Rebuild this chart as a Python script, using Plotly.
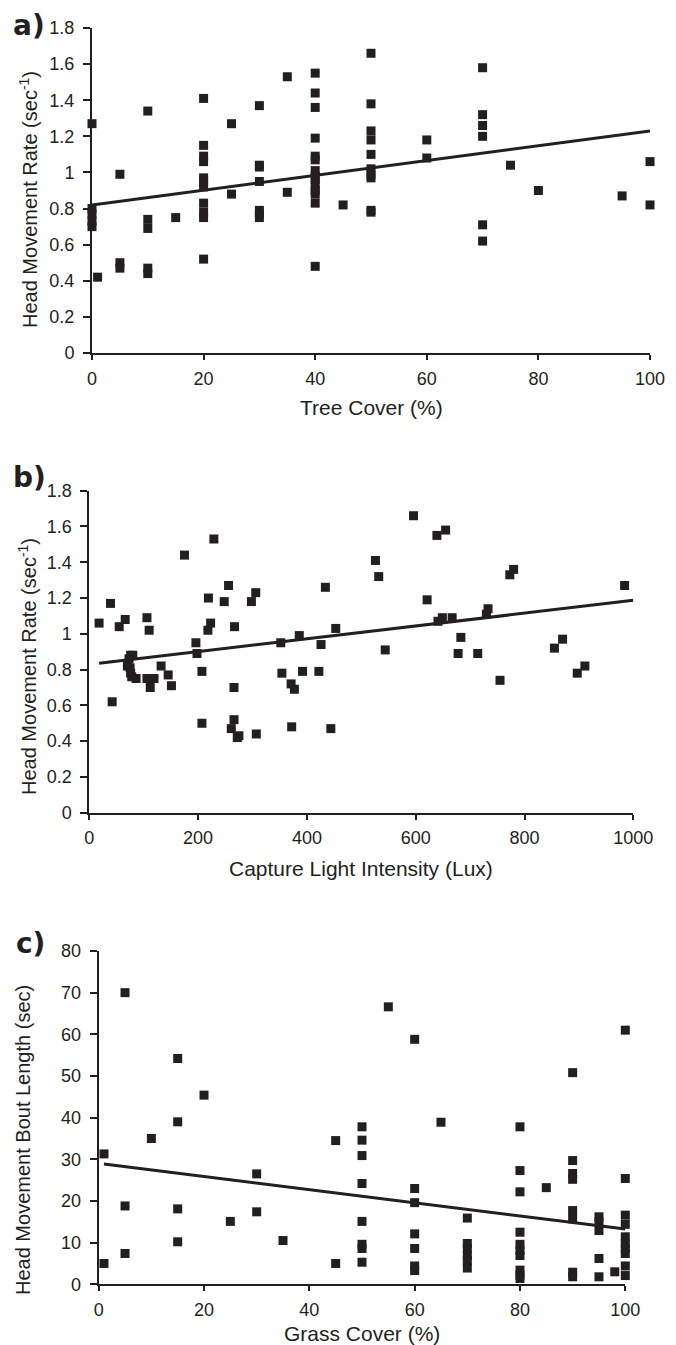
import plotly.graph_objects as go

W, H = 676, 1345
OFF = 8  # the page body keeps its default 8px margin, so the figure is drawn that far in
INK = "#231f20"
FONT = "Liberation Sans, Arial, sans-serif"

# panel a: tree cover vs head movement rate
tree_cover = [0, 0, 0, 0, 0, 1, 5, 5, 5, 10, 10, 10, 10, 10, 15,
              20, 20, 20, 20, 20, 20, 20, 20, 20, 20, 20, 25, 25,
              30, 30, 30, 30, 30, 30, 30, 35, 35,
              40, 40, 40, 40, 40, 40, 40, 40, 40, 40, 40, 40, 40, 40, 45,
              50, 50, 50, 50, 50, 50, 50, 50, 50, 50, 60, 60,
              70, 70, 70, 70, 70, 70, 75, 80, 95, 100, 100]
rate_a = [1.27, 0.80, 0.77, 0.73, 0.70, 0.42, 0.99, 0.50, 0.47, 1.34, 0.74, 0.69, 0.47, 0.44, 0.75,
          1.41, 1.15, 1.09, 1.06, 0.97, 0.95, 0.92, 0.83, 0.78, 0.75, 0.52, 1.27, 0.88,
          1.37, 1.04, 1.03, 0.95, 0.79, 0.77, 0.75, 1.53, 0.89,
          1.55, 1.44, 1.36, 1.19, 1.09, 1.07, 1.01, 0.98, 0.96, 0.93, 0.90, 0.88, 0.83, 0.48, 0.82,
          1.66, 1.38, 1.23, 1.18, 1.10, 1.02, 0.99, 0.97, 0.79, 0.78, 1.18, 1.08,
          1.58, 1.32, 1.26, 1.20, 0.71, 0.62, 1.04, 0.90, 0.87, 1.06, 0.82]
trend_a = [0.82, 0.0041]       # intercept, slope
trend_a_x = [0, 100]

# panel b: capture light intensity vs head movement rate
lux = [18, 39, 42, 55, 66, 70, 73, 76, 80, 75, 76, 78, 86, 106, 110, 106, 112, 119, 132, 145, 151,
       175, 196, 198, 207, 207, 219, 218, 223, 229, 248, 256, 267, 266, 266, 261, 275, 272,
       298, 306, 307, 352, 354, 371, 372, 377, 386, 392, 422, 426, 434, 444, 453,
       526, 532, 544, 596, 621, 639, 655, 641, 649, 667, 683, 678, 714, 733, 730, 755,
       773, 780, 855, 870, 897, 911, 984]
rate_b = [1.06, 1.17, 0.62, 1.04, 1.08, 0.82, 0.86, 0.88, 0.88, 0.81, 0.78, 0.76, 0.75, 1.09, 1.02, 0.75, 0.70, 0.75, 0.82, 0.77, 0.71,
          1.44, 0.95, 0.89, 0.79, 0.50, 1.20, 1.02, 1.06, 1.53, 1.18, 1.27, 1.04, 0.70, 0.52, 0.47, 0.43, 0.42,
          1.18, 1.23, 0.44, 0.95, 0.78, 0.72, 0.48, 0.69, 0.99, 0.79, 0.79, 0.94, 1.26, 0.47, 1.03,
          1.41, 1.32, 0.91, 1.66, 1.19, 1.55, 1.58, 1.07, 1.09, 1.09, 0.98, 0.89, 0.89, 1.14, 1.11, 0.74,
          1.33, 1.36, 0.92, 0.97, 0.78, 0.82, 1.27]
trend_b = [0.829, 0.000358]
trend_b_x = [18, 1000]

# panel c: grass cover vs head movement bout length
grass_cover = [1, 1, 5, 5, 5, 10, 15, 15, 15, 15, 20, 25, 30, 30, 35, 45, 45,
               50, 50, 50, 50, 50, 50, 50, 50, 55,
               60, 60, 60, 60, 60, 60, 60, 65,
               70, 70, 70, 70, 70, 70,
               80, 80, 80, 80, 80, 80, 80, 80, 80, 80, 85,
               90, 90, 90, 90, 90, 90, 90, 90,
               95, 95, 95, 95, 95, 98,
               100, 100, 100, 100, 100, 100, 100, 100, 100, 100]
bout_len = [31.3, 5.0, 70.0, 18.8, 7.4, 35.0, 54.2, 39.0, 18.1, 10.2, 45.4, 15.1, 26.5, 17.4, 10.5, 34.5, 5.0,
            37.8, 34.6, 30.9, 24.2, 15.1, 9.6, 8.6, 5.3, 66.6,
            58.8, 23.0, 19.6, 12.1, 8.6, 4.4, 3.3, 38.9,
            15.9, 9.8, 8.6, 7.0, 5.7, 3.9,
            37.8, 27.3, 22.2, 12.5, 9.6, 8.1, 6.9, 3.4, 2.2, 1.4, 23.2,
            50.8, 29.7, 26.6, 25.2, 17.7, 15.7, 2.9, 1.8,
            16.2, 15.0, 12.9, 6.2, 1.8, 3.0,
            61.0, 25.4, 16.6, 14.4, 11.4, 9.8, 8.6, 7.4, 4.4, 2.1]
trend_c = [29.05, -0.158]
trend_c_x = [1, 100]

panels = [
    dict(x=tree_cover, y=rate_a, trend=trend_a, tx=trend_a_x, xr=[0, 100], xd=20, yr=[0, 1.8], yd=0.2,
         box=(92, 650, 28, 353), xtitle="Tree Cover (%)", xt_y=407,
         ytitle="Head Movement Rate (sec<sup>-1</sup>)", yt=(28, 200), tag="a)", tag_xy=(29, 25)),
    dict(x=lux, y=rate_b, trend=trend_b, tx=trend_b_x, xr=[0, 1000], xd=200, yr=[0, 1.8], yd=0.2,
         box=(89.3, 633.3, 490.7, 812.7), xtitle="Capture Light Intensity (Lux)", xt_y=868,
         ytitle="Head Movement Rate (sec<sup>-1</sup>)", yt=(27, 667), tag="b)", tag_xy=(29, 477)),
    dict(x=grass_cover, y=bout_len, trend=trend_c, tx=trend_c_x, xr=[0, 100], xd=20, yr=[0, 80], yd=10,
         box=(98.7, 625.3, 951, 1284.3), xtitle="Grass Cover (%)", xt_y=1333,
         ytitle="Head Movement Bout Length (sec)", yt=(23, 1140), tag="c)", tag_xy=(30, 943)),
]

FW, FH = W - OFF, H - OFF


def px(v):
    return (v - OFF) / FW


def py(v):
    return 1 - (v - OFF) / FH


fig = go.Figure()
annotations = []

for i, p in enumerate(panels, start=1):
    sfx = "" if i == 1 else str(i)
    x0, x1, y0, y1 = p["box"]
    fig.add_trace(go.Scatter(
        x=p["x"], y=p["y"], mode="markers", xaxis="x" + sfx, yaxis="y" + sfx,
        marker=dict(symbol="square", size=9, color=INK), cliponaxis=False, showlegend=False))
    b0, b1 = p["trend"]
    fig.add_trace(go.Scatter(
        x=p["tx"], y=[b0 + b1 * v for v in p["tx"]], mode="lines", xaxis="x" + sfx, yaxis="y" + sfx,
        line=dict(color=INK, width=3), cliponaxis=False, showlegend=False))

    common = dict(showline=True, linecolor=INK, linewidth=2, showgrid=False, zeroline=False,
                  ticks="outside", tickcolor=INK, tickwidth=1.5, mirror=False, automargin=False,
                  tickfont=dict(family=FONT, size=18, color=INK))
    fig.update_layout(**{
        "xaxis" + sfx: dict(common, domain=[px(x0), px(x1)], anchor="y" + sfx, range=p["xr"],
                            tick0=0, dtick=p["xd"], ticklen=5, ticklabelstandoff=3),
        "yaxis" + sfx: dict(common, domain=[py(y1), py(y0)], anchor="x" + sfx, range=p["yr"],
                            tick0=0, dtick=p["yd"], ticklen=7, ticklabelstandoff=5),
    })

    annotations.append(dict(text=p["xtitle"], x=px((x0 + x1) / 2), y=py(p["xt_y"]),
                            xref="paper", yref="paper", showarrow=False, xanchor="center", yanchor="middle",
                            font=dict(family=FONT, size=21, color=INK)))
    annotations.append(dict(text=p["ytitle"], x=px(p["yt"][0]), y=py(p["yt"][1]), textangle=-90,
                            xref="paper", yref="paper", showarrow=False, xanchor="center", yanchor="middle",
                            font=dict(family=FONT, size=20, color=INK)))
    annotations.append(dict(text="<b>" + p["tag"] + "</b>", x=px(p["tag_xy"][0]), y=py(p["tag_xy"][1]),
                            xref="paper", yref="paper", showarrow=False, xanchor="center", yanchor="middle",
                            borderpad=0, font=dict(family="DejaVu Sans", size=28, color=INK)))

fig.update_layout(width=FW, height=FH, margin=dict(l=0, r=0, t=0, b=0, autoexpand=False),
                  paper_bgcolor="white", plot_bgcolor="white", annotations=annotations)

fig.write_html("out.html")
